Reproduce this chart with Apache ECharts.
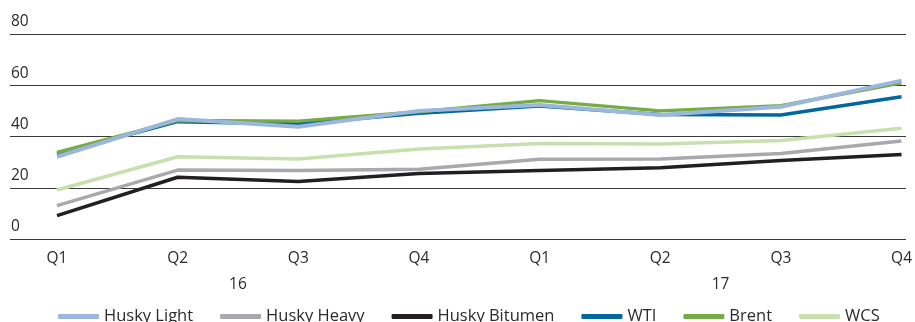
<!DOCTYPE html>
<html>
<head>
<meta charset="utf-8">
<script src="https://cdn.jsdelivr.net/npm/echarts@6/dist/echarts.min.js"></script>
<style>
html,body{margin:0;padding:0;background:#fff;}
#chart{width:915px;height:322px;}
</style>
</head>
<body>
<div id="chart"></div>
<script>
const quarters = ['Q1','Q2','Q3','Q4','Q1','Q2','Q3','Q4'];
const years = ['16','17'];
const yearPositions = [1.5, 5.5];
const yTicks = [0, 20, 40, 60, 80];

const huskyLight   = [32.1, 46.8, 43.8, 50.0, 52.3, 48.4, 51.6, 61.8];
const huskyHeavy   = [13.0, 26.9, 26.7, 27.2, 31.1, 31.2, 33.4, 38.2];
const huskyBitumen = [9.1, 24.1, 22.4, 25.6, 26.7, 27.8, 30.6, 33.0];
const wti          = [33.2, 45.8, 44.9, 49.1, 51.9, 48.6, 48.4, 55.5];
const brent        = [33.8, 46.2, 46.0, 49.7, 54.0, 50.0, 52.0, 61.0];
const wcs          = [19.1, 32.1, 31.2, 35.1, 37.3, 37.1, 38.4, 43.2];

const seriesNames = ['Husky Light','Husky Heavy','Husky Bitumen','WTI','Brent','WCS'];
const seriesData = [huskyLight, huskyHeavy, huskyBitumen, wti, brent, wcs];
const colors = ['#9bb7db','#a8a9ad','#231f20','#00679f','#77ab43','#c8dfae'];
const widths = [4, 3.5, 3.5, 3.5, 3.5, 3.5];
const zs = [10, 3, 4, 5, 6, 2];

const font = '"Open Sans", "Liberation Sans", sans-serif';
const chart = echarts.init(document.getElementById('chart'), null, {renderer:'canvas'});

const option = {
  animation: false,
  textStyle: {fontFamily: font},
  grid: [
    {left: 10, right: 9, top: 34, bottom: 83},
    {left: 57, right: 9, top: 34, bottom: 83}
  ],
  xAxis: [
    {gridIndex: 0, type: 'value', min: 0, max: 1, show: false},
    {gridIndex: 1, type: 'category', boundaryGap: false, data: quarters,
     axisLine: {show: false}, axisTick: {show: false},
     axisLabel: {fontSize: 15.5, color: '#2b2b2b', margin: 12, fontFamily: font}},
    {gridIndex: 1, type: 'value', min: 0, max: 7, position: 'bottom',
     axisLine: {show: false}, axisTick: {show: false}, splitLine: {show: false},
     axisLabel: {customValues: yearPositions, fontSize: 15.5, color: '#2b2b2b', margin: 38, fontFamily: font,
       formatter: function (v) { const i = yearPositions.indexOf(v); return i >= 0 ? years[i] : ''; }}}
  ],
  yAxis: [
    {gridIndex: 0, type: 'value', min: yTicks[0], max: yTicks[yTicks.length-1], interval: 20,
     axisLine: {show: false}, axisTick: {show: false},
     axisLabel: {inside: true, align: 'left', verticalAlign: 'bottom', margin: 0,
       padding: [0, 0, 4, 1], fontSize: 15.5, color: '#2b2b2b', fontFamily: font},
     splitLine: {lineStyle: {color: '#3a3a3a', width: 1}}},
    {gridIndex: 1, type: 'value', min: yTicks[0], max: yTicks[yTicks.length-1], show: false}
  ],
  legend: {
    left: 53, top: 303, itemWidth: 41, itemHeight: 5, itemGap: 27,
    icon: 'roundRect',
    textStyle: {fontSize: 16.5, color: '#2b2b2b', fontFamily: font},
    data: seriesNames
  },
  series: seriesNames.map((n, i) => ({
    name: n, type: 'line', xAxisIndex: 1, yAxisIndex: 1,
    data: seriesData[i], showSymbol: false, symbol: 'none', z: zs[i],
    lineStyle: {color: colors[i], width: widths[i]},
    itemStyle: {color: colors[i]}
  }))
};
chart.setOption(option);
</script>
</body>
</html>
